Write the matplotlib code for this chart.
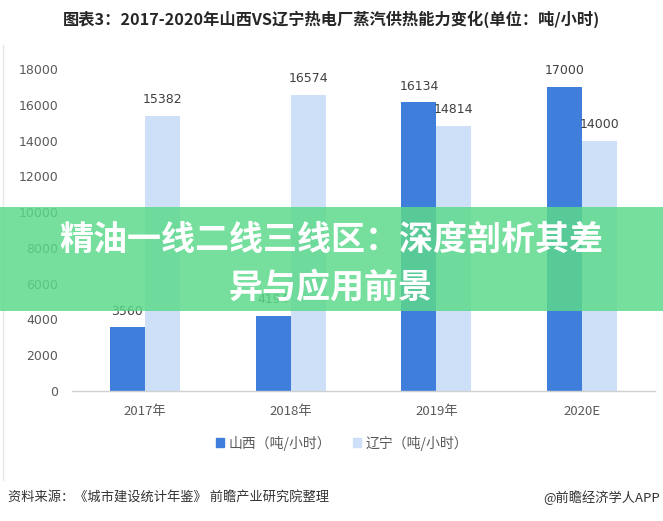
import matplotlib
matplotlib.use("Agg")
import matplotlib.pyplot as plt
from matplotlib.patches import Rectangle
from matplotlib.lines import Line2D
import numpy as np

plt.rcParams['font.family'] = ['Noto Sans CJK SC', 'DejaVu Sans']

categories = ["2017年", "2018年", "2019年", "2020E"]
shanxi = [3560, 4194, 16134, 17000]
liaoning = [15382, 16574, 14814, 14000]
yticks = [0, 2000, 4000, 6000, 8000, 10000, 12000, 14000, 16000, 18000]
series_names = ["山西（吨/小时）", "辽宁（吨/小时）"]
title = "图表3：2017-2020年山西VS辽宁热电厂蒸汽供热能力变化(单位：吨/小时)"
source = "资料来源：《城市建设统计年鉴》 前瞻产业研究院整理"
brand = "@前瞻经济学人APP"
banner = "精油一线二线三线区：深度剖析其差\n异与应用前景"

W, H = 663, 521
fig = plt.figure(figsize=(W / 100, H / 100), dpi=100)
fig.patch.set_facecolor("white")

c_sx = "#3f7fdb"
c_ln = "#cde0f7"
txt = "#595959"

ax = fig.add_axes([72 / W, 1 - 391 / H, (655 - 72) / W, (391 - 69) / H])
x = np.arange(len(categories))
w = 0.24
b1 = ax.bar(x - w / 2, shanxi, width=w, color=c_sx, zorder=2)
b2 = ax.bar(x + w / 2, liaoning, width=w, color=c_ln, zorder=2)
for bars, vals in ((b1, shanxi), (b2, liaoning)):
    for r, v in zip(bars, vals):
        ax.annotate(str(v), (r.get_x() + r.get_width() / 2, v), xytext=(0, 7),
                    textcoords="offset points", ha="center", va="bottom",
                    fontsize=9, color="#404040", family=["DejaVu Sans"],
                    annotation_clip=False)

ax.set_xlim(-0.5, 3.5)
ax.set_ylim(0, 18000)
ax.set_yticks(yticks)
ax.set_yticklabels([str(t) for t in yticks], fontsize=9, color=txt, family=["DejaVu Sans"])
ax.set_xticks(x)
ax.set_xticklabels(categories, fontsize=9.5, color=txt)
ax.tick_params(axis="y", length=0, pad=10)
ax.tick_params(axis="x", length=0, pad=10)
for s in ("top", "right", "left"):
    ax.spines[s].set_visible(False)
ax.spines["bottom"].set_color("#d0d0d0")
ax.spines["bottom"].set_linewidth(1)

# legend
handles = [Rectangle((0, 0), 1, 1, color=c_sx), Rectangle((0, 0), 1, 1, color=c_ln)]
fig.legend(handles, series_names, loc="center", bbox_to_anchor=(342 / W, 1 - 443 / H),
           ncol=2, frameon=False, fontsize=10, handlelength=0.6, handleheight=0.6,
           handletextpad=0.3, columnspacing=1.6, labelcolor=txt)

# title
fig.text(331 / W, 1 - 19 / H, title, ha="center", va="center", fontsize=11.7,
         fontweight="bold", color="#262626")

# footer
fig.text(8 / W, 1 - 498 / H, source, ha="left", va="center", fontsize=9.5, color="#333333")
fig.text(660 / W, 1 - 498 / H, brand, ha="right", va="center", fontsize=9.5, color="#333333")

# faint left border
fig.add_artist(Line2D([3 / W, 3 / W], [1 - 480 / H, 1 - 45 / H], transform=fig.transFigure,
                      color="#e8e8e8", lw=1))

# green banner overlay
fig.add_artist(Rectangle((0, 1 - 311 / H), 1, 104 / H, transform=fig.transFigure,
                         facecolor="#5cd98a", alpha=0.84, edgecolor="none", zorder=10))
fig.text(331 / W, 1 - 263 / H, banner, ha="center", va="center", fontsize=24.5,
         fontweight="bold", color="white", linespacing=1.45, zorder=11)

fig.savefig("out.png", dpi=100)
